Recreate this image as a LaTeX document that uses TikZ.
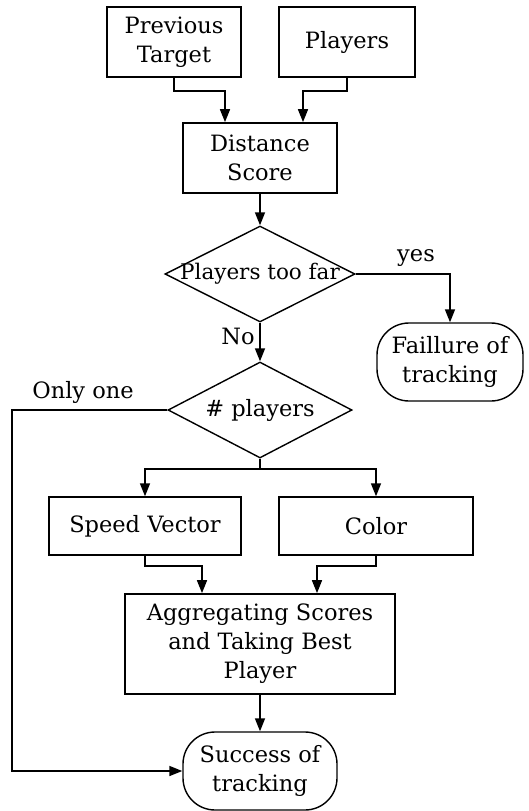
\documentclass[tikz,border=0pt]{standalone}
\usepackage{fontspec}
\setmainfont{DejaVu Serif}
\usetikzlibrary{shapes.geometric,arrows.meta}
\begin{document}
\begin{tikzpicture}[x=1pt,y=-1pt,
  every node/.style={font=\fontsize{22.5}{29}\selectfont, align=center, inner sep=0pt},
  box/.style={draw, line width=1.7pt, rectangle, minimum width=#1},
  term/.style={draw, line width=1.4pt, rectangle, rounded corners=32pt},
  dec/.style={draw, line width=1.4pt, diamond, minimum width=#1, minimum height=96pt},
  arr/.style={line width=1.6pt, -{Triangle[length=13pt,width=10pt]}},
  lbl/.style={font=\fontsize{22.5}{29}\selectfont}
]
\useasboundingbox (0,0) rectangle (528,811);
\node[box=134pt, minimum height=70pt] (prev) at (174,42) {Previous\\Target};
\node[box=136pt, minimum height=70pt] (players) at (347,42) {Players};
\node[box=154pt, minimum height=70pt] (dist) at (260,158) {Distance\\Score};
\node[dec=190pt, label={[font=\fontsize{21.5}{29}\selectfont]center:Players too far}] (d1) at (260,274) {};
\node[term, minimum width=146pt, minimum height=78pt] (fail) at (450,362) {Faillure of\\tracking};
\node[dec=184pt, label={center:\# players}] (d2) at (260,410) {};
\node[box=192pt, minimum height=58pt, line width=1.4pt] (speed) at (145,526) {Speed Vector};
\node[box=194pt, minimum height=58pt, line width=1.4pt] (color) at (376,526) {Color};
\node[box=270pt, minimum height=100pt] (agg) at (260,644) {Aggregating Scores\\and Taking Best\\Player};
\node[term, minimum width=154pt, minimum height=78pt] (succ) at (260,771) {Success of\\tracking};
\coordinate (lft) at (12,410);

\draw[arr] (prev.south) -- ++(0,13) -| ([xshift=-35pt]dist.north);
\draw[arr] (players.south) -- ++(0,13) -| ([xshift=43pt]dist.north);
\draw[arr] (dist.south) -- (d1.north);
\draw[arr] (d1.east) -| (fail.north);
\node[lbl] (yes) at (416,258) {yes};
\draw[arr] (d1.south) -- (d2.north);
\node[lbl] (no) at (238,336) {No};
\draw[arr] (d2.west) -- (lft) |- (succ.west);
\node[lbl] (one) at (83,392) {Only one};
\draw[arr] (d2.south) -- ++(0,10) -| (speed.north);
\draw[arr] (d2.south) -- ++(0,10) -| (color.north);
\draw[arr] (speed.south) -- ++(0,10) -| ([xshift=-58pt]agg.north);
\draw[arr] (color.south) -- ++(0,10) -| ([xshift=57pt]agg.north);
\draw[arr] (agg.south) -- (succ.north);
\end{tikzpicture}
\end{document}
